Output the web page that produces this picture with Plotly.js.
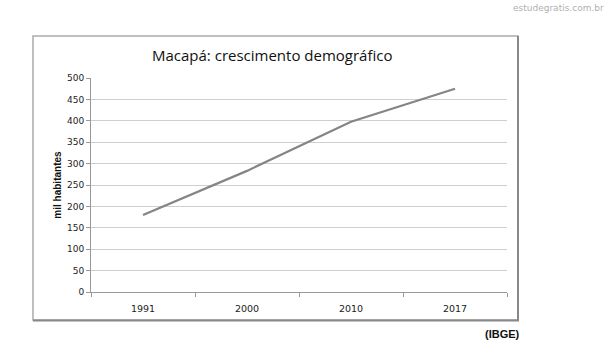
<!DOCTYPE html>
<html><head><meta charset="utf-8">
<script src="https://cdn.plot.ly/plotly-3.0.1.min.js"></script>
<style>html,body{margin:0;padding:0;background:#fff;}#chart{width:610px;height:354px;}</style>
</head><body><div id="chart"></div>
<script>
var years = ['1991', '2000', '2010', '2017'];
var population = [180, 283, 398, 475];
var yTicks = [0, 50, 100, 150, 200, 250, 300, 350, 400, 450, 500];

var W = 610, H = 354;
var M = {l: 91, r: 103, t: 78, b: 62};
var pw = W - M.l - M.r, ph = H - M.t - M.b;
function px(x) { return (x - M.l) / pw; }
function py(y) { return (H - M.b - y) / ph; }

var trace = {
  x: years, y: population, type: 'scatter', mode: 'lines',
  line: {color: '#858585', width: 2.2}, hoverinfo: 'none'
};

var layout = {
  width: W, height: H, margin: M,
  paper_bgcolor: '#ffffff', plot_bgcolor: '#ffffff', showlegend: false,
  font: {family: 'DejaVu Sans, sans-serif', size: 9, color: '#222'},
  xaxis: {
    type: 'category', range: [-0.5, 3.5], tickson: 'boundaries',
    ticks: 'outside', ticklen: 4, tickcolor: '#999', showgrid: false,
    showline: true, linecolor: '#999', linewidth: 1, fixedrange: true,
    ticklabelstandoff: 8,
    tickfont: {family: 'DejaVu Sans, sans-serif', size: 9.5, color: '#222'}
  },
  yaxis: {
    range: [0, 500], tickvals: yTicks, ticktext: yTicks.map(String),
    ticks: 'outside', ticklen: 4, tickcolor: '#999',
    showgrid: true, gridcolor: '#cfcfcf', gridwidth: 1, zeroline: false,
    showline: true, linecolor: '#999', linewidth: 1, fixedrange: true,
    tickfont: {family: 'DejaVu Sans, sans-serif', size: 9, color: '#222'},
    title: {text: '<b>mil habitantes</b>', standoff: 3,
            font: {family: 'Liberation Sans, Arial, sans-serif', size: 10, color: '#111'}}
  },
  shapes: [
    {type: 'rect', xref: 'paper', yref: 'paper', x0: px(33), x1: px(518), y0: py(320), y1: py(36),
     line: {color: '#aaaaaa', width: 1.5}, layer: 'below'},
    {type: 'line', xref: 'paper', yref: 'paper', x0: px(518), x1: px(518), y0: py(321), y1: py(36),
     line: {color: '#888888', width: 2}},
    {type: 'line', xref: 'paper', yref: 'paper', x0: px(33), x1: px(519), y0: py(320.5), y1: py(320.5),
     line: {color: '#888888', width: 2}}
  ],
  annotations: [
    {text: 'Macapá: crescimento demográfico', xref: 'paper', yref: 'paper',
     x: px(272), y: py(55), xanchor: 'center', yanchor: 'middle', showarrow: false,
     font: {family: 'Open Sans, sans-serif', size: 15, color: '#111'}},
    {text: 'estudegratis.com.br', xref: 'paper', yref: 'paper',
     x: px(606), y: py(8), xanchor: 'right', yanchor: 'middle', showarrow: false,
     font: {family: 'DejaVu Sans, sans-serif', size: 9, color: '#b0b0b0'}},
    {text: '<b>(IBGE)</b>', xref: 'paper', yref: 'paper',
     x: px(522), y: py(334), xanchor: 'right', yanchor: 'middle', showarrow: false,
     font: {family: 'Liberation Sans, Arial, sans-serif', size: 11, color: '#111'}}
  ]
};

Plotly.newPlot('chart', [trace], layout, {displayModeBar: false, staticPlot: true});
</script>
</body></html>
